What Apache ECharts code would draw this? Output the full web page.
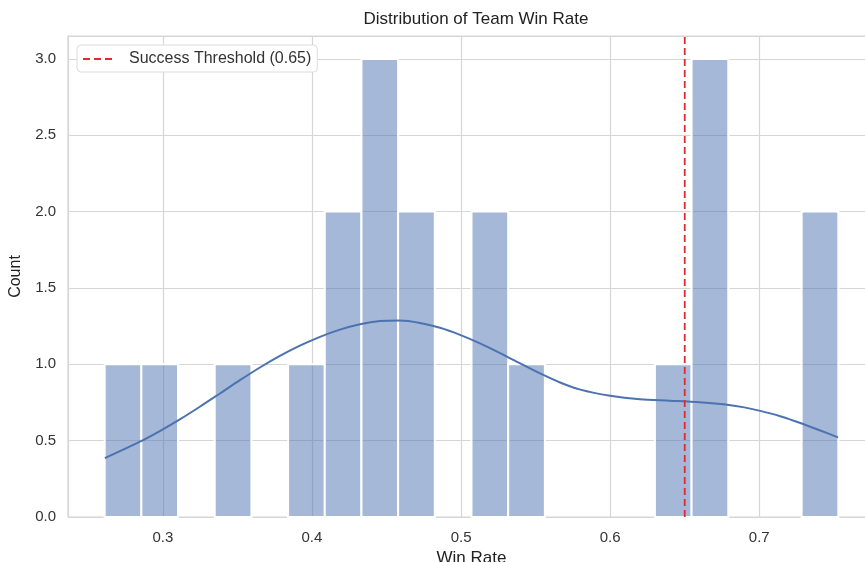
<!DOCTYPE html>
<html>
<head>
<meta charset="utf-8">
<script src="https://cdn.jsdelivr.net/npm/echarts@6/dist/echarts.min.js"></script>
<style>
html,body{margin:0;padding:0;background:#fff;}
#chart{width:865px;height:562px;}
</style>
</head>
<body>
<div id="chart"></div>
<script>
// Histogram bins (edges) and counts
const binEdges = [0.2610, 0.2856, 0.3102, 0.3348, 0.3594, 0.3840, 0.4086, 0.4332, 0.4578, 0.4824, 0.5070,
                  0.5316, 0.5562, 0.5808, 0.6054, 0.6300, 0.6546, 0.6792, 0.7038, 0.7284, 0.7530];
const binCounts = [1, 1, 0, 1, 0, 1, 2, 3, 2, 0, 2, 1, 0, 0, 0, 1, 3, 0, 0, 2];

// KDE curve (scaled to counts)
const kdeX = [0.2611, 0.2846, 0.298, 0.3114, 0.3248, 0.3383, 0.3517, 0.3651, 0.3785, 0.3919, 0.4054, 0.4188,
              0.4322, 0.4456, 0.459, 0.4725, 0.4859, 0.4993, 0.5127, 0.5262, 0.5396, 0.553, 0.5664, 0.58,
              0.60, 0.62, 0.64, 0.66, 0.676, 0.69, 0.7007, 0.714, 0.7275, 0.74, 0.7528];
const kdeY = [0.385, 0.493, 0.563, 0.639, 0.722, 0.809, 0.896, 0.979, 1.055, 1.122, 1.180, 1.227,
              1.262, 1.283, 1.287, 1.271, 1.239, 1.193, 1.137, 1.073, 1.006, 0.940, 0.881, 0.834,
              0.794, 0.771, 0.762, 0.752, 0.738, 0.718, 0.695, 0.660, 0.616, 0.570, 0.521];

const threshold = 0.65;
const legendLabel = 'Success Threshold (0.65)';
const xTickLabels = [0.3, 0.4, 0.5, 0.6, 0.7];
const yTickLabels = [0.0, 0.5, 1.0, 1.5, 2.0, 2.5, 3.0];

const xMin = 0.2364, xMax = 0.7776, yMin = 0, yMax = 3.15;

const histData = binCounts.map((c, i) => [binEdges[i], binEdges[i + 1], c]);
const kdeData = kdeX.map((x, i) => [x, kdeY[i]]);

const chart = echarts.init(document.getElementById('chart'));
const textColor = '#333';
const fontFamily = '"Liberation Sans", Arial, sans-serif';
const red = '#de2a30';

chart.setOption({
  animation: false,
  textStyle: { fontFamily: fontFamily },
  title: {
    text: 'Distribution of Team Win Rate',
    left: 471, top: 6, textAlign: 'center',
    textStyle: { fontSize: 17, fontWeight: 'normal', color: '#222', fontFamily: fontFamily }
  },
  legend: {
    left: 77, top: 45,
    data: [legendLabel],
    itemWidth: 31, itemHeight: 14,
    padding: [6, 6, 5, 5],
    backgroundColor: '#ffffff',
    borderColor: '#dcdcdc', borderWidth: 1, borderRadius: 4,
    itemStyle: { opacity: 0 },
    textStyle: { fontSize: 16, color: textColor, fontFamily: fontFamily, padding: [0, 0, 0, 10] }
  },
  grid: {
    left: 68, right: -10, top: 36, bottom: 45,
    outerBoundsMode: 'none', containLabel: false,
    show: true, borderColor: '#d6d6d6', borderWidth: 1.2, backgroundColor: '#fff'
  },
  xAxis: {
    type: 'value', min: xMin, max: xMax,
    name: 'Win Rate', nameLocation: 'middle', nameGap: 33,
    nameTextStyle: { fontSize: 17, color: '#222' },
    axisLine: { show: false }, axisTick: { show: false },
    splitLine: { show: true, lineStyle: { color: '#d6d6d6', width: 1.2 } },
    axisLabel: {
      fontSize: 15, color: textColor, margin: 13,
      showMinLabel: false, showMaxLabel: false,
      formatter: v => (xTickLabels.some(t => Math.abs(t - v) < 1e-9) ? v.toFixed(1) : '')
    }
  },
  yAxis: {
    type: 'value', min: yMin, max: yMax, interval: 0.5,
    name: 'Count', nameLocation: 'middle', nameGap: 44,
    nameTextStyle: { fontSize: 16, color: '#222' },
    axisLine: { show: false }, axisTick: { show: false },
    splitLine: { show: true, lineStyle: { color: '#d6d6d6', width: 1.2 } },
    axisLabel: {
      fontSize: 15, color: textColor, margin: 12,
      showMaxLabel: false,
      formatter: v => (yTickLabels.some(t => Math.abs(t - v) < 1e-9) ? v.toFixed(1) : '')
    }
  },
  series: [
    {
      type: 'custom',
      name: 'hist',
      data: histData,
      encode: { x: [0, 1], y: 2 },
      renderItem: function (params, api) {
        const c = api.value(2);
        if (!c) return null;
        const p0 = api.coord([api.value(0), c]);
        const p1 = api.coord([api.value(1), 0]);
        return {
          type: 'rect',
          shape: { x: p0[0], y: p0[1], width: p1[0] - p0[0], height: p1[1] - p0[1] },
          style: { fill: 'rgba(76,114,176,0.5)', stroke: '#ffffff', lineWidth: 2 }
        };
      },
      z: 2
    },
    {
      type: 'line',
      name: 'kde',
      data: kdeData,
      smooth: 0.3,
      showSymbol: false,
      symbol: 'none',
      lineStyle: { color: '#4c72b0', width: 2 },
      z: 3
    },
    {
      type: 'line',
      name: legendLabel,
      data: [[threshold, yMin], [threshold, yMax]],
      showSymbol: false,
      symbol: 'none',
      itemStyle: { color: red },
      lineStyle: { color: red, width: 1.8, type: [7, 4] },
      z: 4
    }
  ]
});
</script>
</body>
</html>
